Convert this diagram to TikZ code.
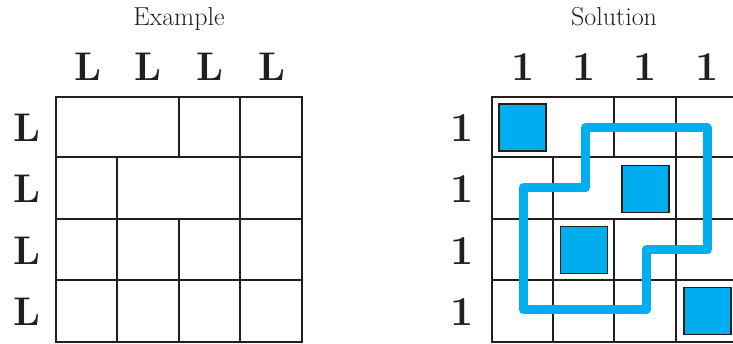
\documentclass[tikz,border=0pt]{standalone}
\usepackage{fontspec}
\definecolor{cyanblue}{RGB}{0,174,239}
\definecolor{gridc}{RGB}{35,31,32}
\begin{document}
\begin{tikzpicture}[x=1pt,y=-1pt,
  title/.style={font=\fontsize{26}{28}\selectfont, text=gridc, inner sep=0pt, anchor=base},
  clue/.style={font=\fontsize{40}{44}\selectfont\bfseries, text=gridc, inner sep=0pt, anchor=base},
  num/.style={font=\fontsize{41}{45}\selectfont\bfseries, text=gridc, inner sep=0pt, anchor=base},
  gridl/.style={draw=gridc, line width=2pt},
  gridr/.style={draw=gridc, line width=1.6pt},
  bluesq/.style={draw=gridc, line width=1.6pt, fill=cyanblue, minimum size=47pt, inner sep=0pt},
  loop/.style={draw=cyanblue, line width=9pt, line join=round, line cap=round}]
\clip (0,0) rectangle (733,344);
\useasboundingbox (0,0) rectangle (733,344);
% titles
\node[title] (ex) at (179,26) {Example};
\node[title] (so) at (614,26) {Solution};
% left grid
\draw[gridl] (56,97) rectangle (302,342);
\draw[gridl] (56,157) -- (302,157) (56,219) -- (302,219) (56,280) -- (302,280);
\draw[gridl] (117,157) -- (117,342) (179,97) -- (179,157) (179,219) -- (179,342) (240,97) -- (240,342);
% left clues
\foreach \x/\n in {88/1,148/2,210/3,272/4} \node[clue] (lc\n) at (\x,81) {L};
\foreach \y/\n in {142/1,203/2,265/3,326/4} \node[clue] (lr\n) at (27,\y) {L};
% right grid
\draw[gridr] (492,97) rectangle (737,342);
\draw[gridr] (492,157) -- (737,157) (492,219) -- (737,219) (492,280) -- (737,280);
\draw[gridr] (553,157) -- (553,342) (614,97) -- (614,157) (614,219) -- (614,342) (676,97) -- (676,342);
% right clues
\foreach \x/\n in {523/1,584/2,645/3,707/4} \node[num] (rc\n) at (\x,81) {1};
\foreach \y/\n in {142/1,203/2,265/3,326/4} \node[num] (rr\n) at (462,\y) {1};
% cell centres
\coordinate (a) at (585,128);
\coordinate (b) at (707,128);
\coordinate (c) at (707,250);
\coordinate (d) at (646,250);
\coordinate (e) at (646,310);
\coordinate (f) at (523,310);
\coordinate (g) at (523,188);
\coordinate (h) at (585,188);
\draw[loop] (a) -- (b) -- (c) -- (d) -- (e) -- (f) -- (g) -- (h) -- cycle;
% squares
\node[bluesq] (s1) at (522.5,127.5) {};
\node[bluesq] (s2) at (645.5,189) {};
\node[bluesq] (s3) at (584,250) {};
\node[bluesq] (s4) at (707.5,311) {};
\end{tikzpicture}
\end{document}
